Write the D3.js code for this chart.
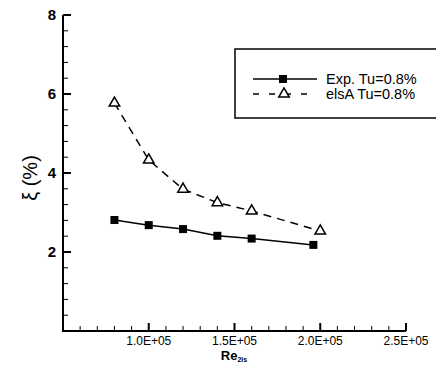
<!DOCTYPE html>
<html>
<head>
<meta charset="utf-8">
<script src="https://cdn.jsdelivr.net/npm/d3@7"></script>
<style>
  body { margin: 0; background: #fff; }
  svg { display: block; font-family: "Liberation Sans", Arial, sans-serif; }
</style>
</head>
<body>
<script>
'use strict';

// data
const reynolds = [80000, 100000, 120000, 140000, 160000, 196000];
const expXi = [2.81, 2.68, 2.58, 2.41, 2.34, 2.18];
const elsaReynolds = [80000, 100000, 120000, 140000, 160000, 200000];
const elsaXi = [5.77, 4.33, 3.59, 3.25, 3.04, 2.53];
const xTickValues = [100000, 150000, 200000, 250000];
const yTickValues = [2, 4, 6, 8];
const legendLabels = ['Exp. Tu=0.8%', 'elsA Tu=0.8%'];

(function () {
  const width = 436, height = 365;
  const svg = d3.select('body').append('svg')
    .attr('width', width)
    .attr('height', height);

  const x = d3.scaleLinear().domain([50000, 250000]).range([63, 406]);
  const y = d3.scaleLinear().domain([0, 8]).range([331, 15]);

  // minor ticks
  const xMinor = d3.range(60000, 250001, 10000).filter(v => v % 50000 !== 0);
  const yMinor = d3.range(0.4, 8, 0.4).filter(v => Math.abs(v / 2 - Math.round(v / 2)) > 0.01);

  const gx = svg.append('g').attr('transform', 'translate(0,' + y(0) + ')');
  gx.selectAll('line.minor').data(xMinor).enter().append('line')
    .attr('x1', d => x(d)).attr('x2', d => x(d))
    .attr('y1', 0).attr('y2', -5)
    .attr('stroke', '#000').attr('stroke-width', 1);
  gx.selectAll('line.major').data(xTickValues).enter().append('line')
    .attr('x1', d => x(d)).attr('x2', d => x(d))
    .attr('y1', 0).attr('y2', -8)
    .attr('stroke', '#000').attr('stroke-width', 2);
  gx.selectAll('text').data(xTickValues).enter().append('text')
    .attr('x', d => x(d)).attr('y', 14)
    .attr('text-anchor', 'middle')
    .style('font-size', '12px')
    .text(d => (d / 100000).toFixed(1) + 'E+05');

  const gy = svg.append('g').attr('transform', 'translate(' + x(50000) + ',0)');
  gy.selectAll('line.minor').data(yMinor).enter().append('line')
    .attr('x1', 0).attr('x2', 5)
    .attr('y1', d => y(d)).attr('y2', d => y(d))
    .attr('stroke', '#000').attr('stroke-width', 1);
  gy.selectAll('line.major').data(yTickValues).enter().append('line')
    .attr('x1', 0).attr('x2', 8)
    .attr('y1', d => y(d)).attr('y2', d => y(d))
    .attr('stroke', '#000').attr('stroke-width', 2);
  gy.selectAll('text').data(yTickValues).enter().append('text')
    .attr('x', -7).attr('y', d => y(d) + 5)
    .attr('text-anchor', 'end')
    .style('font-size', '15px')
    .style('font-weight', 'bold')
    .text(d => d);

  // axis lines
  svg.append('path')
    .attr('d', 'M' + x(50000) + ',' + y(8) + 'V' + y(0) + 'H' + x(250000))
    .attr('fill', 'none').attr('stroke', '#000').attr('stroke-width', 2);

  // axis titles
  const xt = svg.append('text')
    .attr('x', 234).attr('y', 360)
    .attr('text-anchor', 'middle')
    .style('font-size', '13px')
    .style('font-weight', 'bold');
  xt.append('tspan').text('Re');
  xt.append('tspan').attr('dy', 2).style('font-size', '7px').text('2is');

  svg.append('text')
    .attr('transform', 'translate(37,178)rotate(-90)')
    .attr('text-anchor', 'middle')
    .style('font-size', '20px')
    .text('ξ (%)');

  // series
  const expData = reynolds.map((r, i) => ({ r: r, v: expXi[i] }));
  const elsaData = elsaReynolds.map((r, i) => ({ r: r, v: elsaXi[i] }));
  const line = d3.line().x(d => x(d.r)).y(d => y(d.v));

  svg.append('path').datum(elsaData)
    .attr('d', line)
    .attr('fill', 'none').attr('stroke', '#000')
    .attr('stroke-width', 1.5).attr('stroke-dasharray', '8,6');
  svg.append('path').datum(expData)
    .attr('d', line)
    .attr('fill', 'none').attr('stroke', '#000')
    .attr('stroke-width', 1.5);

  const tri = d3.symbol().type(d3.symbolTriangle).size(48);
  svg.selectAll('.tri').data(elsaData).enter().append('path')
    .attr('class', 'tri')
    .attr('d', tri)
    .attr('transform', d => 'translate(' + x(d.r) + ',' + y(d.v) + ')')
    .attr('fill', '#fff').attr('stroke', '#000').attr('stroke-width', 1.5);
  svg.selectAll('.sq').data(expData).enter().append('rect')
    .attr('class', 'sq')
    .attr('x', d => x(d.r) - 4).attr('y', d => y(d.v) - 4)
    .attr('width', 8).attr('height', 8)
    .attr('fill', '#000');

  // legend
  const lg = svg.append('g');
  lg.append('rect')
    .attr('x', 235).attr('y', 49)
    .attr('width', 210).attr('height', 69)
    .attr('fill', '#fff').attr('stroke', '#000').attr('stroke-width', 1.5);

  const rows = [79, 94];
  lg.append('line').attr('x1', 253).attr('x2', 317).attr('y1', rows[0]).attr('y2', rows[0])
    .attr('stroke', '#000').attr('stroke-width', 1.5);
  lg.append('rect').attr('x', 279).attr('y', rows[0] - 4).attr('width', 8).attr('height', 8)
    .attr('fill', '#000');
  lg.append('line').attr('x1', 253).attr('x2', 317).attr('y1', rows[1]).attr('y2', rows[1])
    .attr('stroke', '#000').attr('stroke-width', 1.5).attr('stroke-dasharray', '6,10');
  lg.append('path').attr('d', tri)
    .attr('transform', 'translate(284,' + rows[1] + ')')
    .attr('fill', '#fff').attr('stroke', '#000').attr('stroke-width', 1.5);

  lg.selectAll('text').data(legendLabels).enter().append('text')
    .attr('x', 326).attr('y', (d, i) => rows[i] + 5)
    .style('font-size', '14.5px')
    .text(d => d);
})();
</script>
</body>
</html>
